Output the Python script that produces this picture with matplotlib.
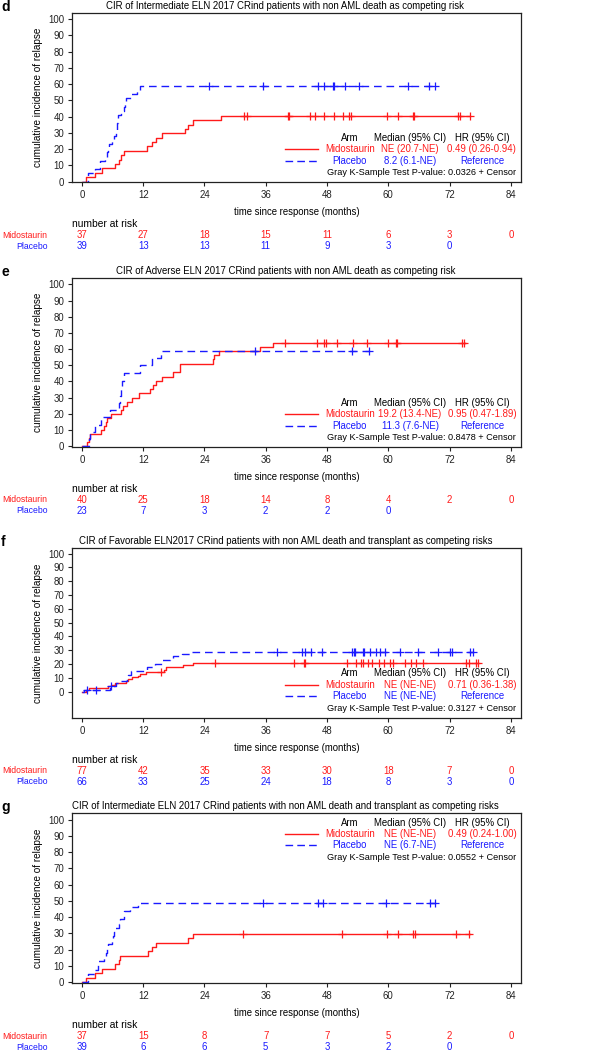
import numpy as np
import matplotlib.pyplot as plt

plt.rcParams['font.family'] = ['Liberation Sans', 'DejaVu Sans']

RED = "#ff1a1a"
BLUE = "#1a1aff"

tick_months = [0, 12, 24, 36, 48, 60, 72, 84]
arms = ["Midostaurin", "Placebo"]

# ---- panel d ----
d_title = "CIR of Intermediate ELN 2017 CRind patients with non AML death as competing risk"
d_mido_t = [0, 0.85, 2.5, 3.9, 6.5, 7.2, 7.6, 8.3, 12.7, 13.7, 14.5, 15.7, 20.1, 20.8, 21.7, 27.2, 76.0]
d_mido_y = [0, 2.7, 5.4, 8.1, 10.8, 13.5, 16.2, 18.9, 21.6, 24.3, 27.0, 29.7, 32.4, 35.1, 37.8, 40.5, 40.5]
d_mido_cens = [31.7, 32.3, 40.3, 40.5, 44.7, 45.7, 47.5, 49.3, 51.2, 52.3, 52.7, 59.7, 62.0, 64.8, 65.1,
               73.6, 74.1, 76.0]
d_plac_t = [0, 1.1, 2.5, 3.5, 4.6, 4.9, 5.1, 5.3, 5.9, 6.2, 6.6, 6.8, 6.9, 7.0, 7.1, 7.7, 8.2, 8.4, 8.6,
            9.6, 10.8, 11.3, 69.2]
d_plac_y = [0, 5.1, 7.7, 12.8, 15.4, 17.9, 20.5, 23.1, 25.6, 28.2, 30.8, 33.3, 35.9, 38.5, 41.0, 43.6,
            46.2, 48.7, 51.3, 53.8, 56.4, 59.0, 59.0]
d_plac_cens = [24.8, 35.4, 46.3, 47.5, 49.1, 49.3, 51.6, 54.2, 63.8, 67.9, 69.1]
d_median = ["NE (20.7-NE)", "8.2 (6.1-NE)"]
d_hr = ["0.49 (0.26-0.94)", "Reference"]
d_pval = "0.0326"
d_risk_mido = [37, 27, 18, 15, 11, 6, 3, 0]
d_risk_plac = [39, 13, 13, 11, 9, 3, 0]

# ---- panel e ----
e_title = "CIR of Adverse ELN 2017 CRind patients with non AML death as competing risk"
e_mido_t = [0, 1.0, 1.3, 1.6, 3.7, 4.4, 4.8, 5.0, 5.7, 7.6, 8.0, 8.8, 9.9, 11.1, 13.4, 14.0, 14.5, 15.7,
            17.9, 19.3, 25.6, 25.9, 26.9, 34.8, 37.4, 75.1]
e_mido_y = [0, 2.5, 5.0, 7.5, 10.0, 12.5, 15.0, 17.5, 20.0, 22.5, 25.0, 27.5, 30.0, 32.5, 35.0, 37.5, 40.0,
            42.5, 46.0, 51.0, 53.7, 56.2, 58.8, 61.4, 64.0, 64.0]
e_mido_cens = [39.8, 46.1, 47.5, 47.8, 49.9, 53.0, 55.9, 59.9, 61.5, 61.8, 74.4, 74.9]
e_plac_t = [0, 1.3, 1.6, 2.6, 3.8, 5.5, 7.3, 7.5, 7.7, 7.9, 8.2, 11.3, 13.8, 15.5, 56.5]
e_plac_y = [0, 4.3, 8.7, 13.3, 17.8, 22.2, 26.6, 31.0, 35.5, 40.0, 45.0, 50.0, 54.6, 59.0, 59.0]
e_plac_cens = [33.8, 52.9, 56.3]
e_median = ["19.2 (13.4-NE)", "11.3 (7.6-NE)"]
e_hr = ["0.95 (0.47-1.89)", "Reference"]
e_pval = "0.8478"
e_risk_mido = [40, 25, 18, 14, 8, 4, 2, 0]
e_risk_plac = [23, 7, 3, 2, 2, 0]

# ---- panel f ----
f_title = "CIR of Favorable ELN2017 CRind patients with non AML death and transplant as competing risks"
f_mido_t = [0, 0.85, 1.3, 5.2, 5.7, 6.5, 8.6, 9.1, 9.8, 11.0, 11.3, 12.5, 16.0, 16.4, 19.8, 21.7, 77.5]
f_mido_y = [0, 1.3, 2.6, 3.9, 5.2, 6.5, 7.8, 9.1, 10.4, 11.7, 13.0, 14.3, 15.6, 18.2, 19.5, 20.8, 20.8]
f_mido_cens = [15.5, 26.1, 41.6, 43.4, 43.7, 52.0, 53.7, 54.6, 55.0, 56.1, 56.8, 58.1, 59.1, 60.4, 61.0,
               63.3, 64.4, 65.5, 66.8, 75.2, 75.9, 77.2, 77.5]
f_plac_t = [0, 0.5, 5.5, 6.7, 7.0, 8.8, 9.0, 9.7, 12.7, 14.4, 15.7, 17.3, 17.9, 19.6, 21.2, 76.6]
f_plac_y = [0, 1.5, 4.5, 6.1, 7.6, 10.6, 12.1, 15.2, 17.6, 19.8, 22.7, 24.4, 25.8, 27.3, 28.8, 28.8]
f_plac_cens = [1.0, 2.8, 5.7, 38.3, 43.2, 43.6, 44.8, 47.1, 52.9, 53.2, 53.5, 55.0, 55.2, 56.5, 57.6, 58.4,
               59.4, 62.2, 65.9, 69.8, 72.0, 72.5, 76.0, 76.6]
f_median = ["NE (NE-NE)", "NE (NE-NE)"]
f_hr = ["0.71 (0.36-1.38)", "Reference"]
f_pval = "0.3127"
f_risk_mido = [77, 42, 35, 33, 30, 18, 7, 0]
f_risk_plac = [66, 33, 25, 24, 18, 8, 3, 0]

# ---- panel g ----
g_title = "CIR of Intermediate ELN 2017 CRind patients with non AML death and transplant as competing risks"
g_mido_t = [0, 0.85, 2.5, 3.9, 6.5, 7.2, 7.5, 12.9, 13.7, 14.6, 20.8, 21.7, 76.0]
g_mido_y = [0, 2.7, 5.4, 8.1, 10.8, 13.5, 16.2, 18.9, 21.6, 24.3, 27.0, 29.7, 29.7]
g_mido_cens = [31.5, 51.0, 59.7, 61.9, 64.8, 65.3, 73.3, 75.9]
g_plac_t = [0, 1.1, 2.5, 3.1, 4.4, 4.8, 5.0, 5.2, 5.9, 6.0, 6.2, 6.4, 7.2, 7.4, 8.2, 8.3, 9.5, 10.9, 69.5]
g_plac_y = [0, 5.1, 7.7, 12.8, 15.4, 17.9, 20.5, 23.1, 25.6, 28.2, 30.8, 33.3, 35.9, 38.5, 41.0, 43.6,
            46.2, 48.7, 48.7]
g_plac_cens = [35.4, 46.3, 47.3, 59.6, 68.2, 69.2]
g_median = ["NE (NE-NE)", "NE (6.7-NE)"]
g_hr = ["0.49 (0.24-1.00)", "Reference"]
g_pval = "0.0552"
g_risk_mido = [37, 15, 8, 7, 7, 5, 2, 0]
g_risk_plac = [39, 6, 6, 5, 3, 2, 0]

FS = 6.9
DASH = (5.5, 3.5)


def step_value(t, y, at):
    idx = np.searchsorted(np.asarray(t), at, side="right") - 1
    return np.asarray(y)[idx]


def draw_panel(fig, rect, letter, title, mido, plac, median, hr, pval, risk_m, risk_p,
               ylow=-0.6, legend_top=False):
    ax = fig.add_axes(rect)
    ax.set_xlim(-2, 86)
    ax.set_ylim(ylow, 104)
    for (t, y, c), col, ls in zip([mido, plac], [RED, BLUE], ["-", "--"]):
        line, = ax.step(t, y, where="post", color=col, lw=1.0, linestyle=ls)
        if ls == "--":
            line.set_dashes(DASH)
        ax.plot(c, step_value(t, y, c), linestyle="none", marker="+", ms=5.5, mew=0.9, color=col)

    ax.set_xticks(tick_months)
    ax.set_yticks(range(0, 101, 10))
    ax.tick_params(labelsize=FS, length=3, width=0.8, pad=2.5, colors="#222222")
    for s in ax.spines.values():
        s.set_linewidth(0.9)
        s.set_color("#222222")
    ax.set_ylabel("cumulative incidence of relapse", fontsize=FS + 0.3)
    ax.yaxis.set_label_coords(-0.064, 0.5)

    # titles and labels
    tr = ('figure fraction', 'axes fraction')
    ax.annotate(title, xy=(0.4642, 1), xycoords=tr, xytext=(0, 7), textcoords='offset pixels',
                ha="center", va="center", fontsize=FS)
    ax.annotate(letter, xy=(0.002, 1), xycoords=tr, xytext=(0, 6), textcoords='offset pixels',
                ha="left", va="center", fontsize=10, fontweight="bold")
    ax.annotate("time since response (months)", xy=(0.5, 0), xycoords='axes fraction',
                xytext=(0, -30), textcoords='offset pixels', ha="center", va="center", fontsize=FS)

    # legend block
    if legend_top:
        rows = [0.943, 0.876, 0.809, 0.740]
    else:
        rows = [0.262, 0.195, 0.127, 0.056]
    ax.text(0.619, rows[0], "Arm", transform=ax.transAxes, ha="center", va="center", fontsize=FS)
    ax.text(0.753, rows[0], "Median (95% CI)", transform=ax.transAxes, ha="center", va="center", fontsize=FS)
    ax.text(0.913, rows[0], "HR (95% CI)", transform=ax.transAxes, ha="center", va="center", fontsize=FS)
    for i, (col, ls) in enumerate(zip([RED, BLUE], ["-", "--"])):
        yy = rows[i + 1]
        ln, = ax.plot([0.475, 0.549], [yy, yy], transform=ax.transAxes, color=col, lw=1.0, linestyle=ls)
        if ls == "--":
            ln.set_dashes((5.5, 3.0))
        ax.text(0.619, yy, arms[i], transform=ax.transAxes, ha="center", va="center", fontsize=FS, color=col)
        ax.text(0.753, yy, median[i], transform=ax.transAxes, ha="center", va="center", fontsize=FS, color=col)
        ax.text(0.913, yy, hr[i], transform=ax.transAxes, ha="center", va="center", fontsize=FS, color=col)
    ax.text(0.989, rows[3], "Gray K-Sample Test P-value: " + pval + " + Censor", transform=ax.transAxes,
            ha="right", va="center", fontsize=FS - 0.3)

    # number at risk
    ax.annotate("number at risk", xy=(0.0, 0), xycoords='axes fraction', xytext=(0, -42),
                textcoords='offset pixels', ha="left", va="center", fontsize=FS + 0.5)
    for k, (vals, col) in enumerate(zip([risk_m, risk_p], [RED, BLUE])):
        off = -53 - 11 * k
        ax.annotate(arms[k], xy=(-0.054, 0), xycoords='axes fraction', xytext=(0, off),
                    textcoords='offset pixels', ha="right", va="center", fontsize=6.2, color=col)
        for m, v in zip(tick_months, vals):
            ax.annotate(str(v), xy=(m, 0), xycoords=('data', 'axes fraction'), xytext=(0, off),
                        textcoords='offset pixels', ha="center", va="center", fontsize=FS, color=col)
    return ax


fig = plt.figure(figsize=(6.15, 10.5), dpi=100)

draw_panel(fig, [0.1166, 0.8262, 0.7306, 0.1617], "d", d_title,
           (d_mido_t, d_mido_y, d_mido_cens), (d_plac_t, d_plac_y, d_plac_cens),
           d_median, d_hr, d_pval, d_risk_mido, d_risk_plac)
draw_panel(fig, [0.1166, 0.5743, 0.7306, 0.1610], "e", e_title,
           (e_mido_t, e_mido_y, e_mido_cens), (e_plac_t, e_plac_y, e_plac_cens),
           e_median, e_hr, e_pval, e_risk_mido, e_risk_plac)
draw_panel(fig, [0.1166, 0.3162, 0.7306, 0.1619], "f", f_title,
           (f_mido_t, f_mido_y, f_mido_cens), (f_plac_t, f_plac_y, f_plac_cens),
           f_median, f_hr, f_pval, f_risk_mido, f_risk_plac, ylow=-19)
draw_panel(fig, [0.1166, 0.0638, 0.7306, 0.1619], "g", g_title,
           (g_mido_t, g_mido_y, g_mido_cens), (g_plac_t, g_plac_y, g_plac_cens),
           g_median, g_hr, g_pval, g_risk_mido, g_risk_plac, legend_top=True)

fig.savefig("out.png", dpi=100)
